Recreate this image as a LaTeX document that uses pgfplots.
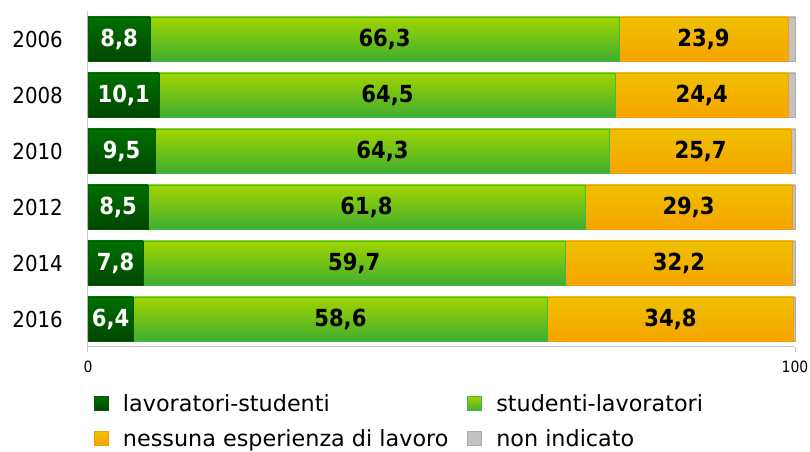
\documentclass[border=0pt]{standalone}
\usepackage{pgfplots}
\pgfplotsset{compat=1.18}
\usepackage{fontspec}
\setmainfont{DejaVu Sans Condensed}
\newfontfamily\legfont{DejaVu Sans}
\definecolor{dg1}{HTML}{007000}
\definecolor{dg2}{HTML}{004600}
\definecolor{dgb}{HTML}{005A00}
\definecolor{lg1}{HTML}{A0D400}
\definecolor{lg2}{HTML}{40AE30}
\definecolor{lgb}{HTML}{3CBB44}
\definecolor{or1}{HTML}{EEC000}
\definecolor{or2}{HTML}{F7A400}
\definecolor{orb}{HTML}{F29A10}
\definecolor{gr1}{HTML}{C2C2C2}
\definecolor{grb}{HTML}{AAAAAA}
\definecolor{axc}{HTML}{C8C8C8}
\pgfdeclareplotmark{void}{}
\pgfplotsset{
  segbar/.style n args={3}{scatter, only marks, mark=void,
    scatter/@pre marker code/.append code={\path[draw=#1, line width=0.8bp, top color=#2, bottom color=#3] ({-7.07bp*\rawx},-22bp) rectangle (0bp,22bp);},
    legend image code/.code={\path[draw=#1, line width=0.8bp, top color=#2, bottom color=#3] (0bp,-7bp) rectangle (14bp,7bp);}},
  seglabel/.style={nodes near coords={\pgfmathprintnumber[fixed,fixed zerofill,precision=1,use comma,assume math mode=true]{\pgfplotspointmeta}},
    every node near coord/.append style={font=\bfseries\fontsize{23.5bp}{27bp}\selectfont, anchor=center, xshift={-3.535bp*\rawx}, text=#1}},
}
\begin{document}
\begin{tikzpicture}
\begin{axis}[
  width=707bp, height=336bp, scale only axis,
  xmin=0, xmax=100, ymin=-0.5, ymax=5.5,
  stack plots=x,
  axis x line*=bottom, axis y line*=left,
  axis line style={axc, line width=1bp},
  xtick={0,100}, xticklabels={0,100},
  tick align=outside, major tick length=5bp,
  xtick style={axc, line width=1bp},
  ytick={0,1,2,3,4,5},
  yticklabels={2016,2014,2012,2010,2008,2006},
  ytick style={draw=none},
  x tick label style={font=\fontsize{15.5bp}{18bp}\selectfont, inner sep=0pt, yshift=-9bp},
  y tick label style={font=\fontsize{22bp}{26bp}\selectfont, inner sep=0pt, xshift=-20bp},
  /pgf/number format/assume math mode=true,
  visualization depends on={rawx \as \rawx},
  point meta=rawx,
  legend columns=2,
  legend style={draw=none, fill=none, at={(axis description cs:0,0)}, anchor=north west,
    xshift=6bp, yshift=-47bp, inner sep=0pt, row sep=17bp,
    font=\legfont\fontsize{22.3bp}{26bp}\selectfont,
    nodes={inner sep=0pt},
    cells={anchor=west},
    /tikz/every even column/.append style={column sep=19bp},
    /tikz/every odd column/.append style={column sep=14bp}},
  clip=false,
]
\addplot[seglabel=white, segbar={dgb}{dg1}{dg2}]
  coordinates {(6.4,0) (7.8,1) (8.5,2) (9.5,3) (10.1,4) (8.8,5)};
\addplot[seglabel=black, segbar={lgb}{lg1}{lg2}]
  coordinates {(58.6,0) (59.7,1) (61.8,2) (64.3,3) (64.5,4) (66.3,5)};
\addplot[seglabel=black, segbar={orb}{or1}{or2}]
  coordinates {(34.8,0) (32.2,1) (29.3,2) (25.7,3) (24.4,4) (23.9,5)};
\addplot[segbar={grb}{gr1}{gr1}]
  coordinates {(0.2,0) (0.3,1) (0.4,2) (0.5,3) (1.0,4) (1.0,5)};
\legend{lavoratori-studenti, studenti-lavoratori, nessuna esperienza di lavoro, non indicato}
\coordinate (BL) at (rel axis cs:0,0);
\coordinate (TR) at (rel axis cs:1,1);
\end{axis}
\pgfresetboundingbox
\path[use as bounding box] ([xshift=-88bp,yshift=-105bp]BL) rectangle ([xshift=15bp,yshift=11bp]TR);
\end{tikzpicture}
\end{document}
